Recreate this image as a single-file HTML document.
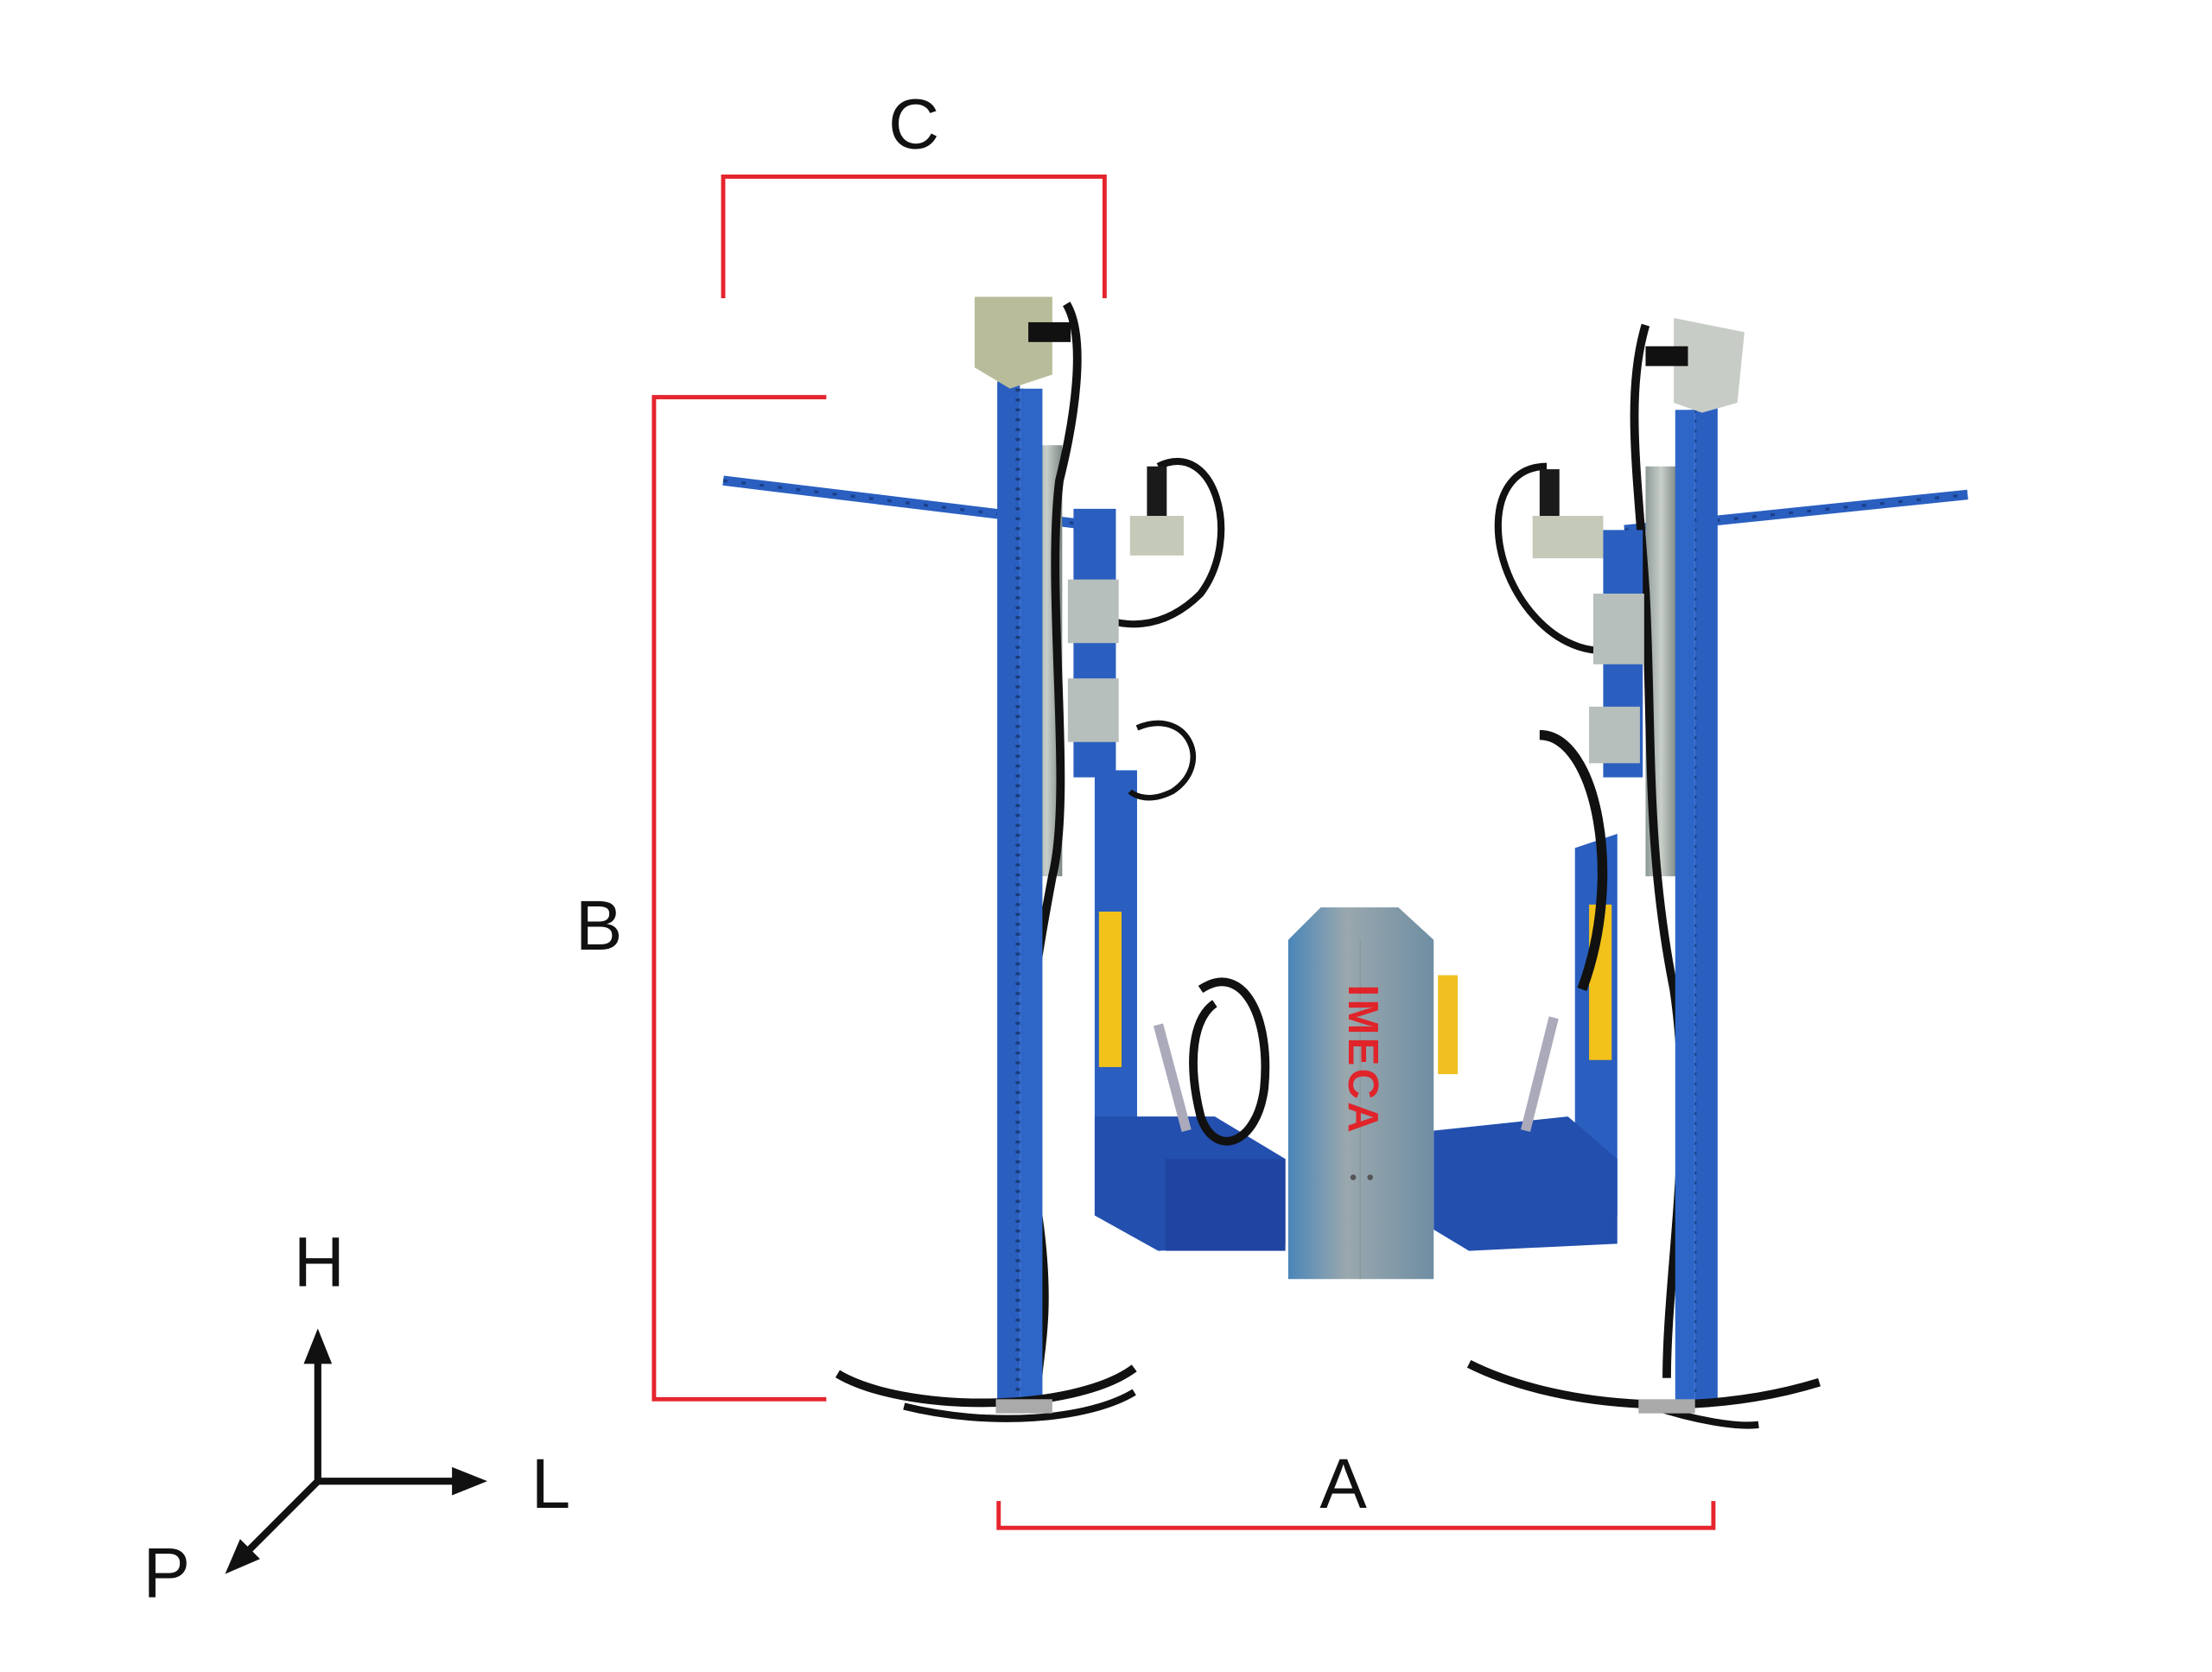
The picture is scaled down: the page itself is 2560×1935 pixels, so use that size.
<!DOCTYPE html>
<html><head><meta charset="utf-8"><style>
html,body{margin:0;padding:0;background:#fff;}
svg{display:block;}
text{font-family:"Liberation Sans",sans-serif;}
</style></head><body>
<svg width="2560" height="1935" viewBox="0 0 1566 1183" preserveAspectRatio="none" xmlns="http://www.w3.org/2000/svg">
<rect width="1566" height="1183" fill="#fff"/>
<defs>
<marker id="ah" markerWidth="5" markerHeight="4" refX="2" refY="2" orient="auto" markerUnits="strokeWidth">
<path d="M0,0 L5,2 L0,4 Z" fill="#111"/></marker>
<linearGradient id="sil" x1="0" x2="1"><stop offset="0" stop-color="#4a86b8"/><stop offset="0.4" stop-color="#9aa8ae"/><stop offset="1" stop-color="#6f8ea3"/></linearGradient>
<linearGradient id="gr" x1="0" x2="1"><stop offset="0" stop-color="#8e9a98"/><stop offset="0.5" stop-color="#c9cfc9"/><stop offset="1" stop-color="#7d8885"/></linearGradient>
</defs>

<g fill="none" stroke="#e5252e" stroke-width="3">
<polyline points="512,211 512,125 782,125 782,211"/>
<polyline points="585,281 463,281 463,990 585,990"/>
<polyline points="707,1062 707,1081 1213,1081 1213,1062"/>
</g>
<g font-size="50" fill="#111" text-anchor="middle">
<text x="647" y="105">C</text>
<text x="424" y="672">B</text>
<text x="951" y="1067">A</text>
<text x="226" y="910">H</text>
<text x="390" y="1067">L</text>
<text x="118" y="1130">P</text>
</g>
<g stroke="#111" stroke-width="5" fill="none" marker-end="url(#ah)">
<line x1="225" y1="1048" x2="225" y2="955"/>
<line x1="225" y1="1048" x2="330" y2="1048"/>
<line x1="225" y1="1048" x2="170" y2="1103"/>
</g>

<!-- LEFT UNIT -->
<line x1="512" y1="340" x2="775" y2="372" stroke="#2a5fc0" stroke-width="7"/>
<line x1="512" y1="340" x2="775" y2="372" stroke="#1a3f8a" stroke-width="2" stroke-dasharray="3 10"/>
<rect x="730" y="315" width="22" height="305" fill="url(#gr)"/>
<path d="M755,215 C770,240 760,300 750,340 C740,420 760,560 745,620 C730,700 720,760 735,860 C745,930 735,960 735,975" stroke="#111" stroke-width="6" fill="none"/>
<path d="M820,330 C860,310 880,380 850,420 C820,450 790,440 790,440" stroke="#111" stroke-width="5" fill="none"/>
<rect x="812" y="330" width="14" height="40" fill="#1a1a1a"/>
<rect x="800" y="365" width="38" height="28" fill="#c4c9b8"/>
<rect x="760" y="360" width="30" height="190" fill="#2a5fc0"/>
<rect x="756" y="410" width="36" height="45" fill="#b7bfbc"/>
<rect x="756" y="480" width="36" height="45" fill="#b7bfbc"/>
<rect x="775" y="545" width="30" height="315" fill="#2a5fc0"/>
<rect x="778" y="645" width="16" height="110" fill="#f2c21a"/>
<path d="M805,515 C840,500 860,540 830,560 C810,570 800,560 800,560" stroke="#111" stroke-width="4" fill="none"/>
<path d="M775,790 L860,790 L910,820 L910,880 L820,885 L775,860 Z" fill="#234fae"/>
<rect x="825" y="820" width="85" height="65" fill="#1f45a0"/>
<path d="M850,700 C880,680 900,720 895,770 C890,810 860,820 850,790 C840,750 845,720 860,710" stroke="#111" stroke-width="6" fill="none"/>
<line x1="820" y1="725" x2="840" y2="800" stroke="#aab" stroke-width="7"/>
<rect x="706" y="270" width="16" height="725" fill="#2a5fc0"/>
<line x1="722" y1="275" x2="722" y2="995" stroke="#1a3c7a" stroke-width="6" stroke-dasharray="2 5"/>
<rect x="722" y="275" width="16" height="720" fill="#2e66c8"/>
<path d="M690,210 L745,210 L745,265 L715,275 L690,260 Z" fill="#b9bc9a"/>
<rect x="728" y="228" width="30" height="14" fill="#111"/>
<path d="M593,972 C640,1000 760,1000 803,968" stroke="#111" stroke-width="6" fill="none"/>
<path d="M640,995 C700,1010 770,1005 803,985" stroke="#111" stroke-width="5" fill="none"/>
<rect x="705" y="990" width="40" height="10" fill="#aaa"/>

<!-- RIGHT UNIT -->
<line x1="1150" y1="375" x2="1393" y2="350" stroke="#2a5fc0" stroke-width="7"/>
<line x1="1150" y1="375" x2="1393" y2="350" stroke="#1a3f8a" stroke-width="2" stroke-dasharray="3 10"/>
<rect x="1165" y="330" width="22" height="290" fill="url(#gr)"/>
<path d="M1165,230 C1150,280 1160,340 1165,420 C1170,520 1165,600 1185,700 C1200,800 1180,900 1180,975" stroke="#111" stroke-width="6" fill="none"/>
<path d="M1095,330 C1050,330 1050,400 1090,440 C1110,460 1130,460 1130,460" stroke="#111" stroke-width="5" fill="none"/>
<rect x="1090" y="332" width="14" height="40" fill="#1a1a1a"/>
<rect x="1085" y="365" width="50" height="30" fill="#c4c9b8"/>
<rect x="1135" y="375" width="28" height="175" fill="#2a5fc0"/>
<rect x="1128" y="420" width="36" height="50" fill="#b7bfbc"/>
<rect x="1125" y="500" width="36" height="40" fill="#b7bfbc"/>
<path d="M1115,600 L1145,590 L1145,860 L1115,860 Z" fill="#2a5fc0"/>
<rect x="1125" y="640" width="16" height="110" fill="#f2c21a"/>
<path d="M1090,520 C1130,520 1150,620 1120,700" stroke="#111" stroke-width="7" fill="none"/>
<path d="M1015,800 L1110,790 L1145,820 L1145,880 L1040,885 L1015,870 Z" fill="#234fae"/>
<line x1="1100" y1="720" x2="1080" y2="800" stroke="#aab" stroke-width="7"/>
<rect x="1018" y="690" width="14" height="70" fill="#f0c020"/>
<rect x="1200" y="285" width="16" height="710" fill="#2a5fc0"/>
<line x1="1198" y1="290" x2="1198" y2="995" stroke="#1a3c7a" stroke-width="6" stroke-dasharray="2 5"/>
<rect x="1186" y="290" width="14" height="705" fill="#2e66c8"/>
<path d="M1185,225 L1235,235 L1230,285 L1205,292 L1185,285 Z" fill="#c8ccc6"/>
<rect x="1165" y="245" width="30" height="14" fill="#111"/>
<path d="M1040,965 C1100,995 1200,1005 1288,978" stroke="#111" stroke-width="6" fill="none"/>
<path d="M1170,995 C1200,1005 1230,1010 1245,1008" stroke="#111" stroke-width="5" fill="none"/>
<rect x="1160" y="990" width="40" height="10" fill="#aaa"/>

<!-- center box -->
<path d="M912,665 L935,642 L990,642 L1015,665 L1015,905 L912,905 Z" fill="url(#sil)"/>
<line x1="963" y1="665" x2="963" y2="905" stroke="#8a9a9c" stroke-width="1"/>
<text x="0" y="0" font-size="30" font-weight="bold" fill="#e0242a" text-anchor="middle" transform="translate(955,750) rotate(90)" letter-spacing="2">IMECA</text>
<circle cx="958" cy="833" r="2" fill="#555"/><circle cx="970" cy="833" r="2" fill="#555"/>
</svg>
</body></html>
